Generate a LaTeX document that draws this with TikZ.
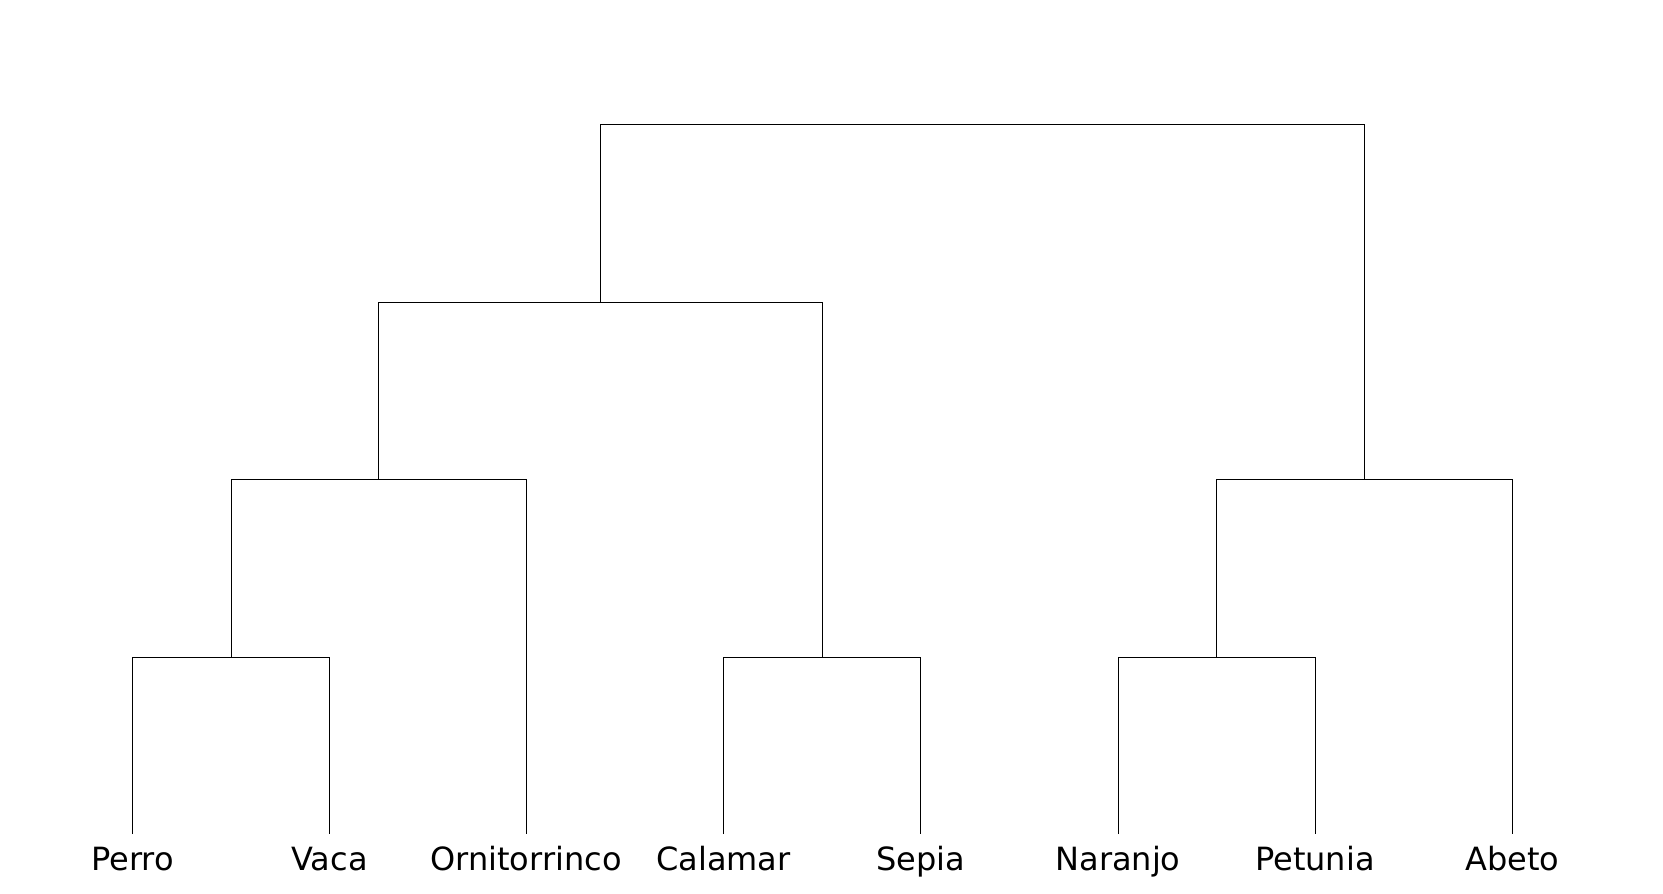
\documentclass[tikz,border=0pt]{standalone}
\usepackage{fontspec}
\setmainfont{DejaVu Sans}
\usetikzlibrary{positioning}

\begin{document}
\begin{tikzpicture}[
  x=0.5pt, y=-0.5pt,
  font=\fontsize{16pt}{19pt}\selectfont,
  leaf/.style={anchor=base, inner xsep=0pt, inner ysep=6pt, text height=11.8pt},
  branch/.style={line width=0.5pt, draw=black},
]
\useasboundingbox (0,0) rectangle (1663,893);

% leaves
\node[leaf] (perro)   at (132.5,870)  {Perro};
\node[leaf] (vaca)    at (329.5,870)  {Vaca};
\node[leaf] (orni)    at (526,870)    {Ornitorrinco};
\node[leaf] (calamar) at (723.5,870)  {Calamar};
\node[leaf] (sepia)   at (920.5,870)  {Sepia};
\node[leaf] (naranjo) at (1118,870)   {Naranjo};
\node[leaf] (petunia) at (1315,870)   {Petunia};
\node[leaf] (abeto)   at (1512.5,870) {Abeto};

% merge points
\coordinate (pv)   at (231,657.5);
\coordinate (cs)   at (822,657.5);
\coordinate (np)   at (1216.5,657.5);
\coordinate (pvo)  at (378.5,479.5);
\coordinate (npa)  at (1364.5,479.5);
\coordinate (anim) at (600.25,302.5);
\coordinate (root) at (982.4,124.5);

\draw[branch] (perro.north) |- (pv) -| (vaca.north);
\draw[branch] (calamar.north) |- (cs) -| (sepia.north);
\draw[branch] (naranjo.north) |- (np) -| (petunia.north);

\draw[branch] (pv) |- (pvo) -| (orni.north);
\draw[branch] (np) |- (npa) -| (abeto.north);

\draw[branch] (pvo) |- (anim) -| (cs);
\draw[branch] (anim) |- (root) -| (npa);

\end{tikzpicture}
\end{document}
